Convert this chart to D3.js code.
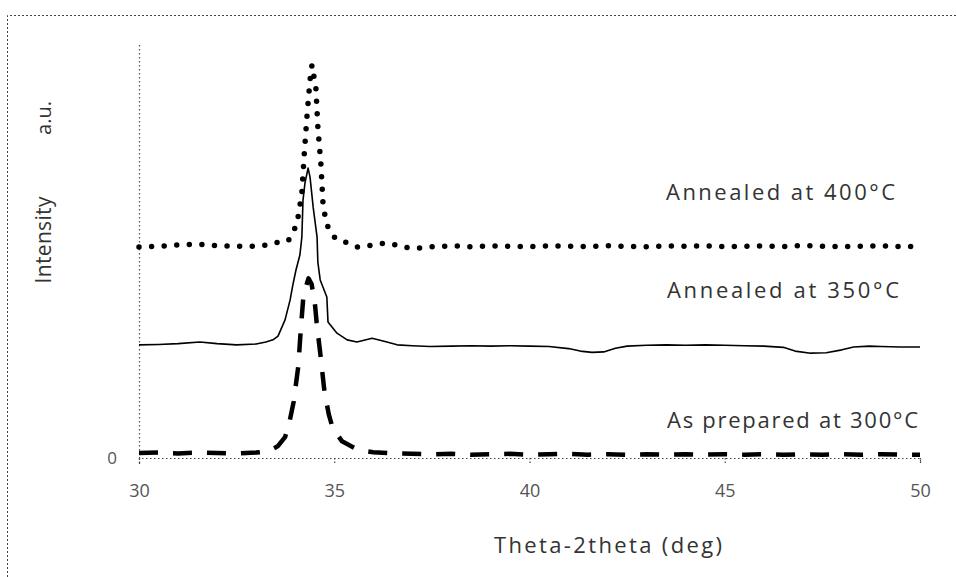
<!DOCTYPE html>
<html>
<head>
<meta charset="utf-8">
<script src="https://cdn.jsdelivr.net/npm/d3@7/dist/d3.min.js"></script>
<style>
  html, body { margin: 0; padding: 0; background: #fff; }
  svg { display: block; }
  text { font-family: "Open Sans", "DejaVu Sans", sans-serif; }
</style>
</head>
<body>
<svg id="chart" width="956" height="577"></svg>
<script>
// ---------- DATA ----------
const xTicks = [30, 35, 40, 45, 50];
const yTicks = [0];

// As prepared at 300 C (dashed)
const x300 = [30, 30.5, 31, 31.5, 32, 32.5, 33, 33.3, 33.55, 33.74, 33.85, 33.96, 34.08, 34.14, 34.21, 34.27, 34.34, 34.42, 34.5, 34.55, 34.65, 34.75, 34.86, 34.96, 35.2, 35.62, 36, 36.5, 37, 37.5, 38, 38.5, 39, 39.5, 40, 40.5, 41, 41.5, 42, 42.5, 43, 43.5, 44, 44.5, 45, 45.5, 46, 46.5, 47, 47.5, 48, 48.5, 49, 49.5, 50];
const y300 = [1.2, 1.3, 1.1, 1.3, 1.2, 1.1, 1.3, 1.6, 2.8, 5.0, 8.5, 13.5, 22.1, 30.5, 38.9, 41.0, 43.2, 41.8, 37.5, 32.5, 24.5, 15.9, 10.5, 7.2, 4.0, 1.9, 1.4, 1.1, 1.0, 0.9, 1.0, 0.8, 0.9, 1.0, 0.8, 0.9, 1.0, 0.8, 0.9, 0.8, 0.9, 0.8, 0.9, 0.8, 0.9, 0.8, 0.9, 0.8, 0.9, 0.8, 0.9, 0.8, 0.9, 0.8, 0.8];

// Annealed at 350 C (solid)
const x350 = [30, 30.5, 31, 31.56, 32, 32.5, 33, 33.25, 33.43, 33.56, 33.74, 33.87, 33.94, 34.02, 34.12, 34.17, 34.2, 34.25, 34.33, 34.38, 34.46, 34.56, 34.58, 34.64, 34.81, 34.84, 35.07, 35.33, 35.58, 35.97, 36.3, 36.61, 37, 37.45, 38, 38.5, 39, 39.5, 40, 40.5, 41, 41.3, 41.6, 41.9, 42.2, 42.5, 43, 43.5, 44, 44.5, 45, 45.5, 46, 46.5, 46.8, 47.2, 47.6, 48, 48.3, 48.7, 49, 49.5, 50];
const y350 = [27.2, 27.3, 27.5, 27.9, 27.5, 27.2, 27.4, 27.9, 28.4, 29.3, 33.2, 38.0, 41.6, 45.2, 48.8, 53.1, 62.0, 66.1, 69.7, 67.5, 60.3, 53.1, 47.1, 42.8, 38.7, 32.7, 30.0, 28.4, 27.9, 28.8, 28.0, 27.2, 27.0, 26.8, 26.9, 27.0, 26.9, 27.0, 26.9, 26.8, 26.3, 25.7, 25.4, 25.5, 26.4, 26.9, 27.1, 27.2, 27.1, 27.2, 27.1, 27.0, 26.9, 26.6, 25.7, 25.2, 25.3, 26.0, 26.7, 26.9, 26.8, 26.7, 26.7];

// Annealed at 400 C (dotted)
const x400 = [30, 30.5, 31, 31.5, 32, 32.5, 33, 33.3, 33.48, 33.82, 33.97, 34.07, 34.17, 34.23, 34.3, 34.38, 34.43, 34.53, 34.58, 34.66, 34.71, 34.76, 34.84, 35.02, 35.33, 35.58, 36, 36.3, 36.6, 36.9, 37.2, 37.5, 38, 38.5, 39, 39.5, 40, 40.5, 41, 41.5, 42, 42.5, 43, 43.5, 44, 44.5, 45, 45.5, 46, 46.5, 47, 47.5, 48, 48.5, 49, 49.5, 50];
const y400 = [50.7, 50.9, 51.2, 51.4, 51.0, 50.9, 50.9, 51.2, 51.7, 52.2, 54.6, 57.7, 63.7, 72.8, 82.0, 90.9, 94.5, 88.9, 79.6, 70.4, 61.5, 58.4, 55.5, 52.9, 51.7, 50.7, 51.2, 51.7, 51.2, 50.5, 50.5, 50.8, 51.0, 50.8, 51.0, 50.9, 50.8, 51.0, 50.9, 50.8, 51.0, 50.9, 50.8, 51.0, 50.9, 51.0, 50.8, 50.9, 51.0, 50.8, 51.1, 50.9, 50.8, 50.9, 51.0, 50.8, 50.9];

const seriesLabels = ["Annealed at  400\u00B0C", "Annealed at  350\u00B0C", "As prepared at 300\u00B0C"];
const xTitle = "Theta-2theta (deg)";
const yTitle = "Intensity";
const yUnit = "a.u.";

// ---------- CHART ----------
const svg = d3.select("#chart");
const W = 956, H = 577;
const plot = { left: 139, right: 920, top: 42, bottom: 458 };

const x = d3.scaleLinear().domain([30, 50]).range([plot.left, plot.right]);
const y = d3.scaleLinear().domain([0, 100]).range([plot.bottom, plot.top]);

// outer dotted frame
svg.append("path")
  .attr("d", `M7.5,${H} L7.5,15.5 L${W},15.5`)
  .attr("fill", "none").attr("stroke", "#444").attr("stroke-width", 1)
  .attr("stroke-dasharray", "2,2");

// axes
const xAxis = d3.axisBottom(x).tickValues(xTicks).tickSize(6).tickPadding(20).tickFormat(d3.format("d"));
const gx = svg.append("g").attr("transform", `translate(0,${plot.bottom})`).call(xAxis);
gx.select(".domain").attr("stroke", "#444").attr("stroke-width", 1.2).attr("stroke-dasharray", "1.5,2.5");
gx.selectAll(".tick line").attr("stroke", "#444").attr("stroke-width", 1.2).attr("stroke-dasharray", "1.5,2");
gx.selectAll(".tick text").attr("font-size", 18).attr("fill", "#555")
  .attr("font-family", "'Open Sans', sans-serif");

const yAxis = d3.axisLeft(y).tickValues(yTicks).tickSize(0).tickPadding(22);
const gy = svg.append("g").attr("transform", `translate(${plot.left},0)`).call(yAxis);
gy.select(".domain").attr("stroke", "#555").attr("stroke-width", 1.2).attr("stroke-dasharray", "1.5,2.5");
gy.selectAll(".tick text").attr("font-size", 17).attr("fill", "#555")
  .attr("font-family", "'Open Sans', sans-serif");

// lines
const mk = (xs, ys) => xs.map((d, i) => [d, ys[i]]);
const line = d3.line().x(d => x(d[0])).y(d => y(d[1]));

svg.append("path").datum(mk(x300, y300)).attr("d", line)
  .attr("fill", "none").attr("stroke", "#000").attr("stroke-width", 4.5)
  .attr("stroke-dasharray", "19,15").attr("stroke-linejoin", "round");

svg.append("path").datum(mk(x350, y350)).attr("d", line)
  .attr("fill", "none").attr("stroke", "#000").attr("stroke-width", 1.6)
  .attr("stroke-linejoin", "round");

svg.append("path").datum(mk(x400, y400)).attr("d", line)
  .attr("fill", "none").attr("stroke", "#000").attr("stroke-width", 5.5)
  .attr("stroke-dasharray", "0,12.6").attr("stroke-linecap", "round");

// series labels
const labelPos = [[666, 200], [667, 298], [667, 428]];
const labelLen = [229, 232, 251];
seriesLabels.forEach((t, i) => {
  svg.append("text").attr("x", labelPos[i][0]).attr("y", labelPos[i][1])
    .attr("font-size", 22).attr("fill", "#333")
    .attr("textLength", labelLen[i]).attr("lengthAdjust", "spacing")
    .text(t);
});

// axis titles
svg.append("text").attr("x", 608).attr("y", 553).attr("text-anchor", "middle")
  .attr("font-size", 22).attr("fill", "#333")
  .attr("textLength", 228).attr("lengthAdjust", "spacing")
  .text(xTitle);

svg.append("text").attr("transform", "translate(51,240) rotate(-90)")
  .attr("text-anchor", "middle").attr("font-size", 21).attr("fill", "#333")
  .attr("textLength", 87).attr("lengthAdjust", "spacing")
  .text(yTitle);

svg.append("text").attr("transform", "translate(51,118) rotate(-90)")
  .attr("text-anchor", "middle").attr("font-size", 20).attr("fill", "#333")
  .text(yUnit);
</script>
</body>
</html>
